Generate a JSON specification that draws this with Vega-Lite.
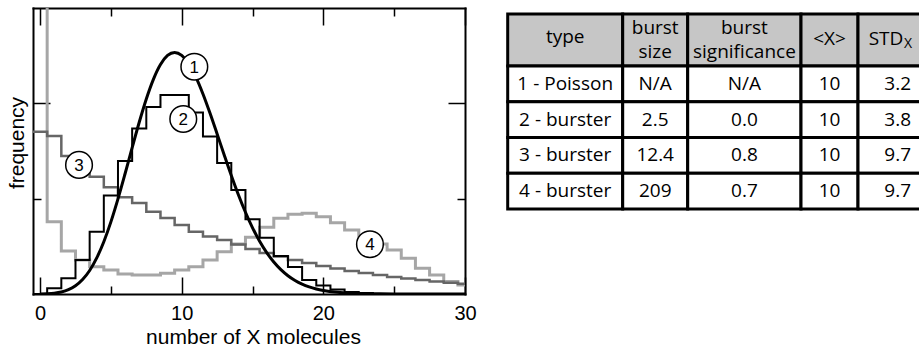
{
  "$schema": "https://vega.github.io/schema/vega-lite/v6.json",
  "padding": {"left": 6, "top": 7, "right": 0, "bottom": 0},
  "spacing": 14,
  "config": {
    "view": {"stroke": null},
    "font": "Liberation Sans",
    "axis": {"grid": false, "domainColor": "#000000", "domainWidth": 2, "domainCap": "square", "tickColor": "#000000", "tickWidth": 1.5, "labelColor": "#000000", "titleColor": "#000000", "titleFontWeight": "normal", "zindex": 1}
  },
  "datasets": {
    "hist": [
      {"s": "4", "x": -0.5, "y": 0.151}, {"s": "4", "x": 0.5, "y": 0.0379}, {"s": "4", "x": 1.5, "y": 0.0226}, {"s": "4", "x": 2.5, "y": 0.0178}, {"s": "4", "x": 3.5, "y": 0.0143}, {"s": "4", "x": 4.5, "y": 0.0126}, {"s": "4", "x": 5.5, "y": 0.0105}, {"s": "4", "x": 6.5, "y": 0.0100}, {"s": "4", "x": 7.5, "y": 0.0100}, {"s": "4", "x": 8.5, "y": 0.0109}, {"s": "4", "x": 9.5, "y": 0.0126}, {"s": "4", "x": 10.5, "y": 0.0143}, {"s": "4", "x": 11.5, "y": 0.0178}, {"s": "4", "x": 12.5, "y": 0.0222}, {"s": "4", "x": 13.5, "y": 0.0262}, {"s": "4", "x": 14.5, "y": 0.0297}, {"s": "4", "x": 15.5, "y": 0.0350}, {"s": "4", "x": 16.5, "y": 0.0397}, {"s": "4", "x": 17.5, "y": 0.0418}, {"s": "4", "x": 18.5, "y": 0.0423}, {"s": "4", "x": 19.5, "y": 0.0405}, {"s": "4", "x": 20.5, "y": 0.0374}, {"s": "4", "x": 21.5, "y": 0.0336}, {"s": "4", "x": 22.5, "y": 0.0299}, {"s": "4", "x": 23.5, "y": 0.0262}, {"s": "4", "x": 24.5, "y": 0.0231}, {"s": "4", "x": 25.5, "y": 0.0187}, {"s": "4", "x": 26.5, "y": 0.0135}, {"s": "4", "x": 27.5, "y": 0.0100}, {"s": "4", "x": 28.5, "y": 0.0065}, {"s": "4", "x": 29.5, "y": 0.0047}, {"s": "4", "x": 30.5, "y": 0.0047},
      {"s": "3", "x": -0.5, "y": 0.0851}, {"s": "3", "x": 0.5, "y": 0.0829}, {"s": "3", "x": 1.5, "y": 0.0724}, {"s": "3", "x": 2.5, "y": 0.0671}, {"s": "3", "x": 3.5, "y": 0.0615}, {"s": "3", "x": 4.5, "y": 0.0560}, {"s": "3", "x": 5.5, "y": 0.0507}, {"s": "3", "x": 6.5, "y": 0.0477}, {"s": "3", "x": 7.5, "y": 0.0432}, {"s": "3", "x": 8.5, "y": 0.0399}, {"s": "3", "x": 9.5, "y": 0.0362}, {"s": "3", "x": 10.5, "y": 0.0327}, {"s": "3", "x": 11.5, "y": 0.0301}, {"s": "3", "x": 12.5, "y": 0.0283}, {"s": "3", "x": 13.5, "y": 0.0260}, {"s": "3", "x": 14.5, "y": 0.0236}, {"s": "3", "x": 15.5, "y": 0.0215}, {"s": "3", "x": 16.5, "y": 0.0197}, {"s": "3", "x": 17.5, "y": 0.0178}, {"s": "3", "x": 18.5, "y": 0.0163}, {"s": "3", "x": 19.5, "y": 0.0147}, {"s": "3", "x": 20.5, "y": 0.0134}, {"s": "3", "x": 21.5, "y": 0.0121}, {"s": "3", "x": 22.5, "y": 0.0110}, {"s": "3", "x": 23.5, "y": 0.0100}, {"s": "3", "x": 24.5, "y": 0.0089}, {"s": "3", "x": 25.5, "y": 0.0081}, {"s": "3", "x": 26.5, "y": 0.0073}, {"s": "3", "x": 27.5, "y": 0.0066}, {"s": "3", "x": 28.5, "y": 0.0059}, {"s": "3", "x": 29.5, "y": 0.0054}, {"s": "3", "x": 30.5, "y": 0.0054},
      {"s": "2", "x": -0.5, "y": 0}, {"s": "2", "x": 0.5, "y": 0.0030}, {"s": "2", "x": 1.5, "y": 0.0082}, {"s": "2", "x": 2.5, "y": 0.0178}, {"s": "2", "x": 3.5, "y": 0.0327}, {"s": "2", "x": 4.5, "y": 0.0517}, {"s": "2", "x": 5.5, "y": 0.0698}, {"s": "2", "x": 6.5, "y": 0.0868}, {"s": "2", "x": 7.5, "y": 0.0981}, {"s": "2", "x": 8.5, "y": 0.1044}, {"s": "2", "x": 9.5, "y": 0.1044}, {"s": "2", "x": 10.5, "y": 0.0952}, {"s": "2", "x": 11.5, "y": 0.0826}, {"s": "2", "x": 12.5, "y": 0.0687}, {"s": "2", "x": 13.5, "y": 0.0545}, {"s": "2", "x": 14.5, "y": 0.0392}, {"s": "2", "x": 15.5, "y": 0.0295}, {"s": "2", "x": 16.5, "y": 0.0199}, {"s": "2", "x": 17.5, "y": 0.0142}, {"s": "2", "x": 18.5, "y": 0.0073}, {"s": "2", "x": 19.5, "y": 0.0044}, {"s": "2", "x": 20.5, "y": 0.0024}, {"s": "2", "x": 21.5, "y": 0.0010}, {"s": "2", "x": 22.5, "y": 0.0005}, {"s": "2", "x": 23.5, "y": 0}, {"s": "2", "x": 30.5, "y": 0}
    ],
    "poisson": [
      {"x": 0, "y": 0.0000454}, {"x": 0.5, "y": 0.000162}, {"x": 1, "y": 0.000454}, {"x": 1.5, "y": 0.00108}, {"x": 2, "y": 0.00227}, {"x": 2.5, "y": 0.00432}, {"x": 3, "y": 0.00757}, {"x": 3.5, "y": 0.01234}, {"x": 4, "y": 0.01892}, {"x": 4.5, "y": 0.02743}, {"x": 5, "y": 0.03783}, {"x": 5.5, "y": 0.04987}, {"x": 6, "y": 0.06306}, {"x": 6.5, "y": 0.07672}, {"x": 7, "y": 0.09008}, {"x": 7.5, "y": 0.10230}, {"x": 8, "y": 0.11260}, {"x": 8.5, "y": 0.12035}, {"x": 9, "y": 0.12511}, {"x": 9.5, "y": 0.12669}, {"x": 10, "y": 0.12511}, {"x": 10.5, "y": 0.12065}, {"x": 11, "y": 0.11374}, {"x": 11.5, "y": 0.10492}, {"x": 12, "y": 0.09478}, {"x": 12.5, "y": 0.08393}, {"x": 13, "y": 0.07291}, {"x": 13.5, "y": 0.06217}, {"x": 14, "y": 0.05208}, {"x": 14.5, "y": 0.04288}, {"x": 15, "y": 0.03472}, {"x": 15.5, "y": 0.02766}, {"x": 16, "y": 0.02170}, {"x": 16.5, "y": 0.01677}, {"x": 17, "y": 0.01276}, {"x": 17.5, "y": 0.00958}, {"x": 18, "y": 0.00709}, {"x": 18.5, "y": 0.00518}, {"x": 19, "y": 0.00373}, {"x": 19.5, "y": 0.00266}, {"x": 20, "y": 0.00187}, {"x": 21, "y": 0.00089}, {"x": 22, "y": 0.00040}, {"x": 23, "y": 0.00018}, {"x": 24, "y": 0.00007}, {"x": 25, "y": 0.00003}, {"x": 26, "y": 0.00001}, {"x": 28, "y": 0}, {"x": 30, "y": 0}
    ],
    "labels": [
      {"x": 10.89, "y": 0.1192, "n": "1"}, {"x": 10.11, "y": 0.0918, "n": "2"}, {"x": 2.75, "y": 0.0677, "n": "3"}, {"x": 23.29, "y": 0.0261, "n": "4"}
    ],
    "cells": [
      {"x0": 0, "x1": 11.5, "y0": -1.455, "y1": 0, "head": "yes"}, {"x0": 11.5, "x1": 18, "y0": -1.455, "y1": 0, "head": "yes"}, {"x0": 18, "x1": 29.33, "y0": -1.455, "y1": 0, "head": "yes"}, {"x0": 29.33, "x1": 35.03, "y0": -1.455, "y1": 0, "head": "yes"}, {"x0": 35.03, "x1": 44, "y0": -1.455, "y1": 0, "head": "yes"},
      {"x0": 0, "x1": 11.5, "y0": 0, "y1": 1, "head": "no"}, {"x0": 11.5, "x1": 18, "y0": 0, "y1": 1, "head": "no"}, {"x0": 18, "x1": 29.33, "y0": 0, "y1": 1, "head": "no"}, {"x0": 29.33, "x1": 35.03, "y0": 0, "y1": 1, "head": "no"}, {"x0": 35.03, "x1": 44, "y0": 0, "y1": 1, "head": "no"},
      {"x0": 0, "x1": 11.5, "y0": 1, "y1": 2, "head": "no"}, {"x0": 11.5, "x1": 18, "y0": 1, "y1": 2, "head": "no"}, {"x0": 18, "x1": 29.33, "y0": 1, "y1": 2, "head": "no"}, {"x0": 29.33, "x1": 35.03, "y0": 1, "y1": 2, "head": "no"}, {"x0": 35.03, "x1": 44, "y0": 1, "y1": 2, "head": "no"},
      {"x0": 0, "x1": 11.5, "y0": 2, "y1": 3, "head": "no"}, {"x0": 11.5, "x1": 18, "y0": 2, "y1": 3, "head": "no"}, {"x0": 18, "x1": 29.33, "y0": 2, "y1": 3, "head": "no"}, {"x0": 29.33, "x1": 35.03, "y0": 2, "y1": 3, "head": "no"}, {"x0": 35.03, "x1": 44, "y0": 2, "y1": 3, "head": "no"},
      {"x0": 0, "x1": 11.5, "y0": 3, "y1": 4, "head": "no"}, {"x0": 11.5, "x1": 18, "y0": 3, "y1": 4, "head": "no"}, {"x0": 18, "x1": 29.33, "y0": 3, "y1": 4, "head": "no"}, {"x0": 29.33, "x1": 35.03, "y0": 3, "y1": 4, "head": "no"}, {"x0": 35.03, "x1": 44, "y0": 3, "y1": 4, "head": "no"}
    ],
    "texts": [
      {"xm": 5.75, "ym": -0.824, "t": "type"}, {"xm": 14.75, "ym": -1.055, "t": "burst\nsize"}, {"xm": 23.67, "ym": -1.055, "t": "burst\nsignificance"}, {"xm": 32.18, "ym": -0.75, "t": "<X>"}, {"xm": 37.83, "ym": -0.75, "t": "STD"},
      {"xm": 5.75, "ym": 0.5, "t": "1 - Poisson"}, {"xm": 14.75, "ym": 0.5, "t": "N/A"}, {"xm": 23.67, "ym": 0.5, "t": "N/A"}, {"xm": 32.18, "ym": 0.5, "t": "10"}, {"xm": 39.0, "ym": 0.5, "t": "3.2"},
      {"xm": 5.75, "ym": 1.5, "t": "2 - burster"}, {"xm": 14.75, "ym": 1.5, "t": "2.5"}, {"xm": 23.67, "ym": 1.5, "t": "0.0"}, {"xm": 32.18, "ym": 1.5, "t": "10"}, {"xm": 39.0, "ym": 1.5, "t": "3.8"},
      {"xm": 5.75, "ym": 2.5, "t": "3 - burster"}, {"xm": 14.75, "ym": 2.5, "t": "12.4"}, {"xm": 23.67, "ym": 2.5, "t": "0.8"}, {"xm": 32.18, "ym": 2.5, "t": "10"}, {"xm": 39.0, "ym": 2.5, "t": "9.7"},
      {"xm": 5.75, "ym": 3.5, "t": "4 - burster"}, {"xm": 14.75, "ym": 3.5, "t": "209"}, {"xm": 23.67, "ym": 3.5, "t": "0.7"}, {"xm": 32.18, "ym": 3.5, "t": "10"}, {"xm": 39.0, "ym": 3.5, "t": "9.7"}
    ],
    "sub": [
      {"xm": 39.63, "ym": -0.75, "t": "X"}
    ]
  },
  "hconcat": [
    {
      "width": 432,
      "height": 286,
      "resolve": {"axis": {"x": "independent", "y": "independent"}},
      "layer": [
        {
          "data": {"name": "hist"},
          "mark": {"type": "line", "interpolate": "step-after", "clip": true, "strokeJoin": "miter"},
          "encoding": {
            "x": {"field": "x", "type": "quantitative", "scale": {"domain": [-0.5, 30], "nice": false, "zero": false},
              "axis": {"orient": "bottom", "values": [0, 10, 20, 30], "tickSize": -17, "labelFontSize": 20, "labelFont": "Liberation Sans", "labelPadding": 26.5, "labelFlush": false, "labelOverlap": false, "title": "number of X molecules", "titleFont": "Liberation Sans", "titleFontSize": 21, "titlePadding": 3, "titleX": 220}},
            "y": {"field": "y", "type": "quantitative", "scale": {"domain": [0, 0.15], "nice": false, "zero": false},
              "axis": {"orient": "left", "values": [0.1], "tickSize": -17, "labels": false, "title": "frequency", "titleFont": "Liberation Sans", "titleFontSize": 21, "titlePadding": 5, "titleY": 134.5}},
            "color": {"field": "s", "type": "nominal", "scale": {"domain": ["2", "3", "4"], "range": ["#000000", "#666666", "#a6a6a6"]}, "legend": null},
            "strokeWidth": {"field": "s", "type": "nominal", "scale": {"domain": ["2", "3", "4"], "range": [2, 3, 3]}, "legend": null}
          }
        },
        {
          "data": {"name": "poisson"},
          "mark": {"type": "line", "interpolate": "monotone", "clip": true, "color": "#000000", "strokeWidth": 3},
          "encoding": {
            "x": {"field": "x", "type": "quantitative", "scale": {"domain": [-0.5, 30], "nice": false, "zero": false},
              "axis": {"orient": "bottom", "values": [5, 15, 25], "tickSize": -8, "labels": false, "domain": false, "title": null}},
            "y": {"field": "y", "type": "quantitative", "scale": {"domain": [0, 0.15], "nice": false, "zero": false},
              "axis": {"orient": "left", "values": [0.05], "tickSize": -8, "labels": false, "domain": false, "title": null}}
          }
        },
        {
          "data": {"name": "labels"},
          "mark": {"type": "point", "shape": "circle", "filled": true, "fill": "#ffffff", "stroke": "#000000", "strokeWidth": 1.5, "size": 711, "opacity": 1},
          "encoding": {
            "x": {"field": "x", "type": "quantitative", "scale": {"domain": [-0.5, 30], "nice": false, "zero": false},
              "axis": {"orient": "top", "values": [0, 10, 20, 30], "tickSize": -17, "labels": false, "title": null}},
            "y": {"field": "y", "type": "quantitative", "scale": {"domain": [0, 0.15], "nice": false, "zero": false},
              "axis": {"orient": "right", "values": [0.1], "tickSize": -17, "labels": false, "title": null}}
          }
        },
        {
          "data": {"name": "labels"},
          "mark": {"type": "text", "fontSize": 17, "font": "Liberation Sans", "baseline": "middle", "align": "center", "dy": 1, "color": "#000000"},
          "encoding": {
            "x": {"field": "x", "type": "quantitative", "scale": {"domain": [-0.5, 30], "nice": false, "zero": false},
              "axis": {"orient": "top", "values": [5, 15, 25], "tickSize": -8, "labels": false, "domain": false, "title": null}},
            "y": {"field": "y", "type": "quantitative", "scale": {"domain": [0, 0.15], "nice": false, "zero": false},
              "axis": {"orient": "right", "values": [0.05], "tickSize": -8, "labels": false, "domain": false, "title": null}},
            "text": {"field": "n", "type": "nominal"}
          }
        }
      ]
    },
    {
      "width": 429,
      "height": 286,
      "layer": [
        {
          "data": {"name": "cells"},
          "mark": {"type": "rect", "stroke": "#000000", "strokeWidth": 3, "clip": true},
          "encoding": {
            "x": {"field": "x0", "type": "quantitative", "scale": {"domain": [-1.67, 41.23], "nice": false, "zero": false}, "axis": null},
            "x2": {"field": "x1"},
            "y": {"field": "y0", "type": "quantitative", "scale": {"domain": [-1.622, 6.378], "nice": false, "zero": false, "reverse": true}, "axis": null},
            "y2": {"field": "y1"},
            "fill": {"field": "head", "type": "nominal", "scale": {"domain": ["yes", "no"], "range": ["#c6c6c6", "#ffffff"]}, "legend": null}
          }
        },
        {
          "data": {"name": "texts"},
          "mark": {"type": "text", "font": "Open Sans", "fontSize": 19, "lineBreak": "\n", "lineHeight": 24, "baseline": "middle", "align": "center", "color": "#000000"},
          "encoding": {
            "x": {"field": "xm", "type": "quantitative", "scale": {"domain": [-1.67, 41.23], "nice": false, "zero": false}, "axis": null},
            "y": {"field": "ym", "type": "quantitative", "scale": {"domain": [-1.622, 6.378], "nice": false, "zero": false, "reverse": true}, "axis": null},
            "text": {"field": "t", "type": "nominal"}
          }
        },
        {
          "data": {"name": "sub"},
          "mark": {"type": "text", "font": "Open Sans", "fontSize": 14, "baseline": "middle", "align": "left", "dy": 5, "color": "#000000"},
          "encoding": {
            "x": {"field": "xm", "type": "quantitative", "scale": {"domain": [-1.67, 41.23], "nice": false, "zero": false}, "axis": null},
            "y": {"field": "ym", "type": "quantitative", "scale": {"domain": [-1.622, 6.378], "nice": false, "zero": false, "reverse": true}, "axis": null},
            "text": {"field": "t", "type": "nominal"}
          }
        }
      ]
    }
  ]
}
